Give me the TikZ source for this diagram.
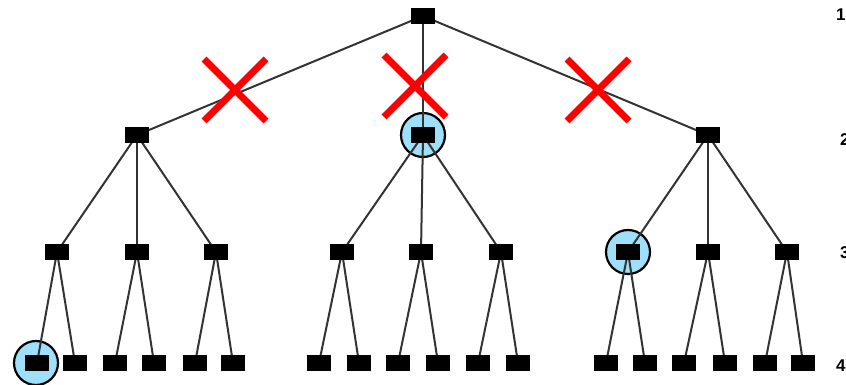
\documentclass[tikz,border=0pt]{standalone}
\usepackage{fontspec}
\setmainfont{Liberation Sans}
\begin{document}
\begin{tikzpicture}[x=1pt,y=-1pt,
  sq/.style={fill=black,draw=none,minimum width=23pt,minimum height=16pt,inner sep=0pt},
  link/.style={draw=black!80,line width=2pt},
  ring/.style={circle,fill=cyan!38!white,draw=black,line width=2.2pt,minimum size=44pt,inner sep=0pt},
  cross/.style={draw=red,line width=7pt},
  lvl/.style={anchor=west,font=\bfseries\fontsize{17}{17}\selectfont,inner sep=0pt}]
\useasboundingbox (0,0) rectangle (846,385);
% circles (behind)
\node[ring] (c1) at (423,135) {};
\node[ring] (c2) at (628,252) {};
\node[ring] (c3) at (36,363) {};
% nodes
\node[sq] (r) at (423,16) {};
\node[sq] (a) at (137,135) {};
\node[sq] (b) at (423,135) {};
\node[sq] (c) at (708,135) {};
\foreach \n/\x in {a1/57,a2/137,a3/216,b1/342,b2/421,b3/501,c1n/628,c2n/708,c3n/787}
  \node[sq] (\n) at (\x,252) {};
\foreach \n/\x in {a11/37,a12/75,a21/115,a22/154,a31/195,a32/233,
                   b11/319,b12/359,b21/398,b22/438,b31/478,b32/518,
                   c11/606,c12/645,c21/684,c22/725,c31/765,c32/803}
  \node[sq] (\n) at (\x,363) {};
% edges
\foreach \p/\q in {r/a,r/b,r/c,a/a1,a/a2,a/a3,b/b1,b/b2,b/b3,c/c1n,c/c2n,c/c3n,
  a1/a11,a1/a12,a2/a21,a2/a22,a3/a31,a3/a32,
  b1/b11,b1/b12,b2/b21,b2/b22,b3/b31,b3/b32,
  c1n/c11,c1n/c12,c2n/c21,c2n/c22,c3n/c31,c3n/c32}
  \draw[link] (\p.center) -- (\q.center);
% redraw squares on top of lines
\foreach \n in {r,a,b,c,a1,a2,a3,b1,b2,b3,c1n,c2n,c3n,a11,a12,a21,a22,a31,a32,b11,b12,b21,b22,b31,b32,c11,c12,c21,c22,c31,c32}
  \fill (\n.south west) rectangle (\n.north east);
% crosses
\foreach \n/\x/\y in {x1/235/90,x2/415/86,x3/598/90}{
  \coordinate (\n) at (\x,\y);
  \draw[cross] ([shift={(-31,-31)}]\n) -- ([shift={(31,31)}]\n);
  \draw[cross] ([shift={(-31,31)}]\n) -- ([shift={(31,-31)}]\n);
}
% level labels (cut by the page edge, as in the reference)
\node[lvl] (l1) at (836,15) {1};
\node[lvl] (l2) at (840,140) {2};
\node[lvl] (l3) at (840,253) {3};
\node[lvl] (l4) at (836,366) {4};
\end{tikzpicture}
\end{document}
